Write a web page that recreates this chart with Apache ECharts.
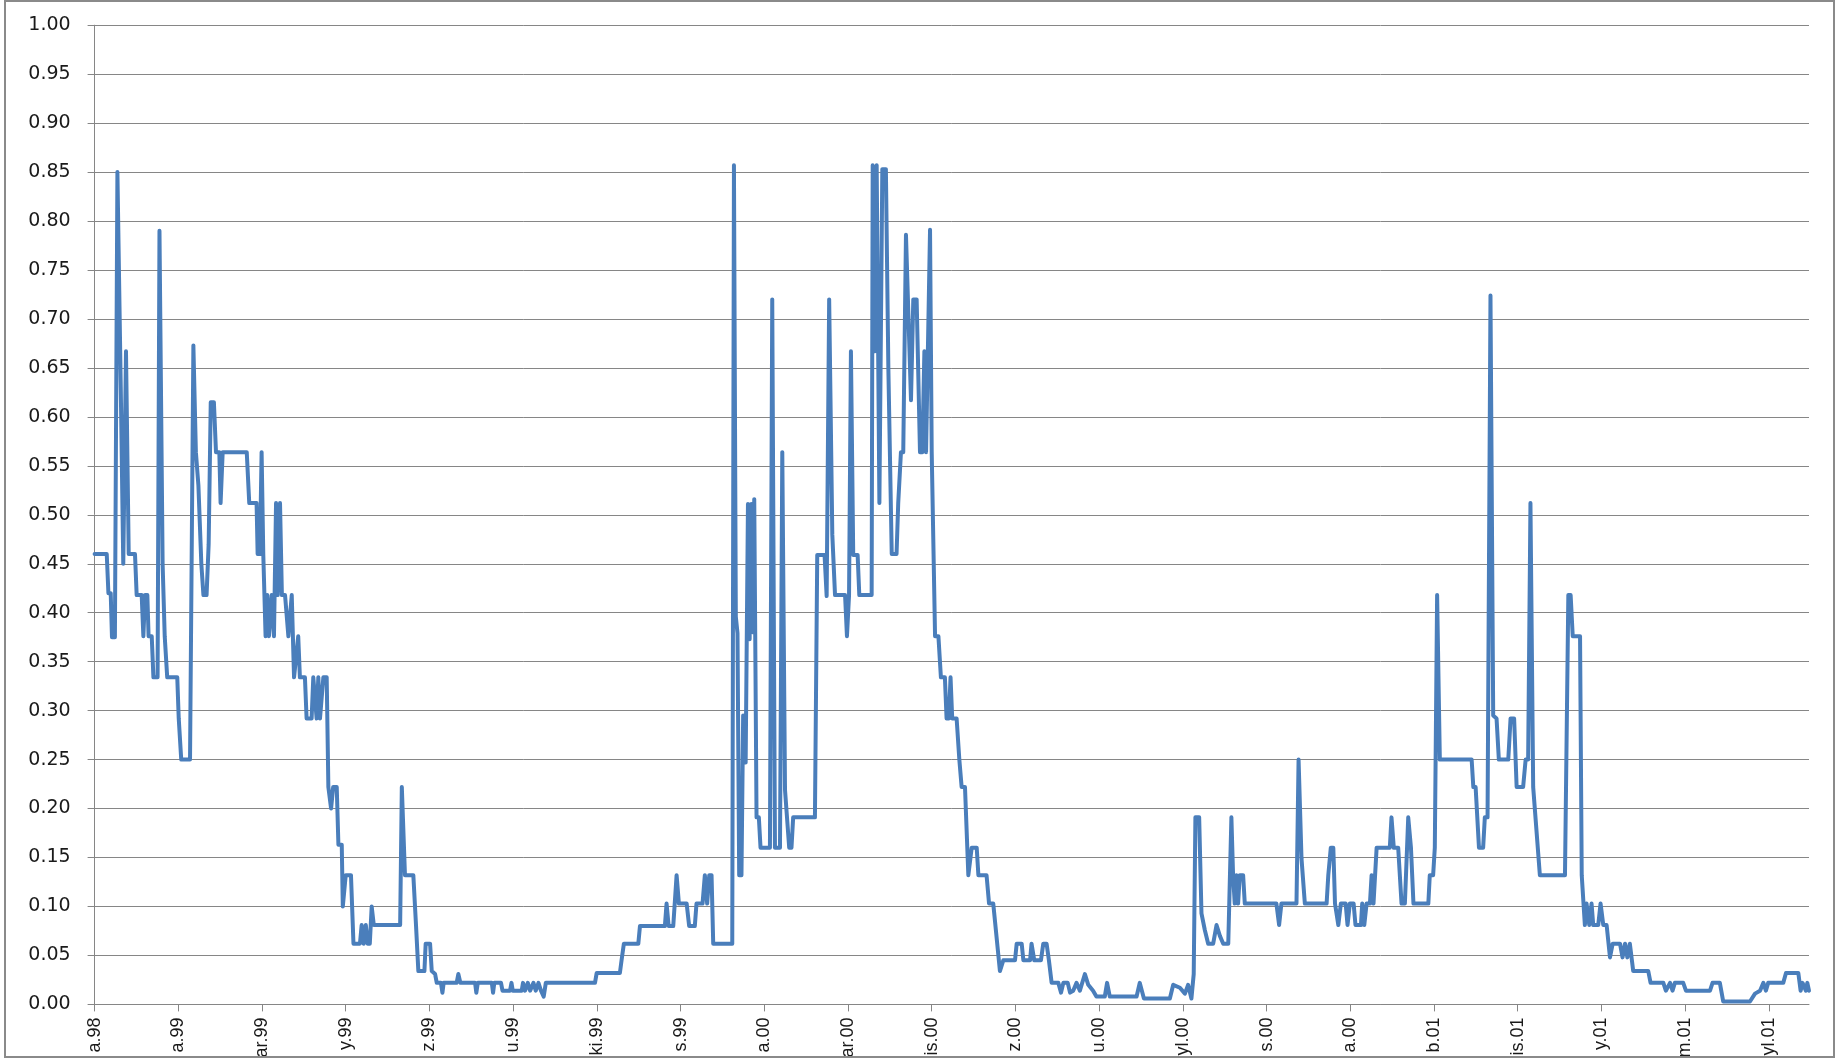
<!DOCTYPE html>
<html>
<head>
<meta charset="utf-8">
<title>line</title>
<script src="https://cdn.jsdelivr.net/npm/echarts@6/dist/echarts.min.js"></script>
<style>
    html, body { margin: 0; padding: 0; background: #fff; }
    #frame {
        position: absolute; left: 4px; top: 0; width: 1831px; height: 1058px;
        border: 2px solid #8a8a8a; box-sizing: border-box; overflow: hidden;
    }
    #chart { width: 100%; height: 100%; }
</style>
</head>
<body>
<div id="frame"><div id="chart"></div></div>
<script>
// x-axis tick labels (only the visible tail of each date survives the frame)
const tickLabels = ["a.98", "a.99", "ar.99", "y.99", "z.99", "u.99", "ki.99", "s.99",
    "a.00", "ar.00", "is.00", "z.00", "u.00", "yl.00", "s.00", "a.00",
    "b.01", "is.01", "y.01", "m.01", "yl.01"];
// one tick every 40 observations
const tickStep = 40;
const lastIndex = 819.2;

// [observation index, value]
const seriesPoints = [
    [0, 0.46], [5.8, 0.46], [6.6, 0.42], [7.7, 0.42], [8.3, 0.375], [9.7, 0.375],
    [10.9, 0.85], [11.7, 0.85], [12.5, 0.63], [13.7, 0.45], [15.0, 0.667], [16.3, 0.46],
    [19.3, 0.46], [20.1, 0.418], [22.5, 0.418], [23.3, 0.376], [24.1, 0.418], [25.2, 0.418],
    [25.8, 0.376], [27.3, 0.376], [28.1, 0.334], [30.1, 0.334], [31.0, 0.79], [32.5, 0.45],
    [33.5, 0.376], [34.1, 0.376], [34.7, 0.334], [39.5, 0.334], [40.2, 0.292], [40.8, 0.292],
    [41.4, 0.25], [45.6, 0.25], [47.2, 0.673], [48.4, 0.564], [49.6, 0.53], [51.0, 0.45],
    [52.0, 0.418], [53.5, 0.418], [54.5, 0.47], [55.5, 0.615], [57.0, 0.615], [58.0, 0.564],
    [59.6, 0.564], [60.2, 0.512], [61.2, 0.564], [72.7, 0.564], [73.9, 0.512], [77.4, 0.512],
    [77.9, 0.46], [79.0, 0.46], [79.8, 0.564], [80.6, 0.46], [81.7, 0.376], [82.5, 0.418],
    [83.3, 0.376], [84.6, 0.418], [85.7, 0.376], [86.7, 0.512], [87.5, 0.418], [88.6, 0.512],
    [89.5, 0.418], [91.0, 0.418], [92.6, 0.376], [94.2, 0.418], [95.3, 0.334], [97.3, 0.376],
    [98.1, 0.334], [100.5, 0.334], [101.3, 0.292], [103.7, 0.292], [104.5, 0.334], [106.1, 0.292],
    [106.9, 0.334], [107.7, 0.292], [109.3, 0.334], [110.9, 0.334], [111.7, 0.222], [113.0, 0.20],
    [114.0, 0.222], [115.7, 0.222], [116.5, 0.163], [118.1, 0.163], [118.6, 0.10], [119.4, 0.10],
    [120.0, 0.132], [122.5, 0.132], [123.7, 0.062], [126.8, 0.062], [127.6, 0.081], [128.6, 0.062],
    [129.6, 0.081], [130.5, 0.062], [131.5, 0.062], [132.4, 0.10], [133.4, 0.081], [146.0, 0.081],
    [146.8, 0.222], [147.6, 0.222], [148.3, 0.132], [152.3, 0.132], [153.6, 0.08], [154.7, 0.034],
    [157.6, 0.034], [158.2, 0.062], [160.3, 0.062], [161.1, 0.034], [162.7, 0.031], [163.5, 0.022],
    [165.5, 0.022], [166.2, 0.012], [166.8, 0.022], [173.0, 0.022], [173.8, 0.031], [174.8, 0.022],
    [181.8, 0.022], [182.4, 0.012], [183.1, 0.022], [189.8, 0.022], [190.4, 0.012], [191.0, 0.022],
    [194.2, 0.022], [194.9, 0.014], [198.5, 0.014], [199.2, 0.022], [199.8, 0.014], [204.1, 0.014],
    [204.7, 0.022], [205.7, 0.014], [207.0, 0.022], [208.1, 0.014], [209.7, 0.022], [210.8, 0.014],
    [212.1, 0.022], [213.3, 0.014], [214.6, 0.008], [215.6, 0.022], [239.1, 0.022], [239.9, 0.032],
    [251.0, 0.032], [251.8, 0.045], [252.9, 0.062], [259.8, 0.062], [260.6, 0.08], [272.5, 0.08],
    [273.3, 0.103], [274.3, 0.08], [276.5, 0.08], [278.1, 0.132], [279.2, 0.103], [282.9, 0.103],
    [284.1, 0.08], [286.8, 0.08], [287.6, 0.103], [290.5, 0.103], [291.6, 0.132], [292.7, 0.103],
    [293.7, 0.132], [294.8, 0.132], [295.6, 0.062], [304.7, 0.062], [305.5, 0.857], [306.4, 0.396],
    [307.2, 0.379], [308.0, 0.132], [309.1, 0.132], [309.9, 0.295], [311.1, 0.247], [312.2, 0.511],
    [313.0, 0.373], [313.8, 0.511], [314.4, 0.38], [315.2, 0.516], [316.3, 0.191], [317.4, 0.191],
    [318.2, 0.16], [322.7, 0.16], [323.8, 0.72], [325.1, 0.16], [327.5, 0.16], [328.6, 0.564],
    [329.9, 0.219], [330.8, 0.219], [331.9, 0.16], [333.0, 0.16], [333.8, 0.191], [344.2, 0.191],
    [345.3, 0.459], [348.8, 0.459], [349.8, 0.417], [351.0, 0.72], [352.5, 0.48], [353.8, 0.418],
    [358.6, 0.418], [359.5, 0.376], [360.5, 0.418], [361.4, 0.667], [362.5, 0.459], [364.6, 0.459],
    [365.4, 0.418], [371.3, 0.418], [371.8, 0.857], [372.9, 0.667], [373.7, 0.857], [375.0, 0.512],
    [376.4, 0.853], [378.1, 0.853], [379.3, 0.648], [380.9, 0.46], [383.2, 0.46], [384.0, 0.512],
    [385.3, 0.564], [386.4, 0.564], [387.7, 0.786], [390.1, 0.617], [391.2, 0.72], [392.8, 0.72],
    [394.4, 0.564], [395.5, 0.564], [396.5, 0.667], [397.3, 0.564], [399.2, 0.791], [400.0, 0.564],
    [401.6, 0.376], [403.2, 0.376], [404.4, 0.334], [406.3, 0.334], [407.1, 0.292], [408.2, 0.292],
    [409.0, 0.334], [409.8, 0.292], [411.9, 0.292], [413.2, 0.25], [414.3, 0.222], [415.9, 0.222],
    [417.5, 0.132], [419.1, 0.16], [421.5, 0.16], [422.3, 0.132], [426.2, 0.132], [427.4, 0.103],
    [429.4, 0.103], [432.6, 0.034], [434.2, 0.045], [439.8, 0.045], [440.6, 0.062], [443.0, 0.062],
    [443.8, 0.045], [447.0, 0.045], [447.7, 0.062], [449.0, 0.045], [452.2, 0.045], [453.3, 0.062],
    [454.9, 0.062], [456.0, 0.045], [457.3, 0.022], [460.5, 0.022], [461.8, 0.012], [462.9, 0.022],
    [465.0, 0.022], [466.1, 0.012], [467.6, 0.014], [469.2, 0.022], [470.8, 0.014], [473.2, 0.031],
    [474.8, 0.02], [477.1, 0.014], [478.7, 0.008], [482.7, 0.008], [483.8, 0.022], [485.1, 0.008],
    [497.9, 0.008], [499.4, 0.022], [501.4, 0.006], [513.8, 0.006], [515.4, 0.02], [518.6, 0.017],
    [521.0, 0.011], [522.5, 0.02], [524.1, 0.006], [525.2, 0.031], [526.0, 0.191], [527.8, 0.191],
    [528.9, 0.093], [530.5, 0.076], [532.1, 0.062], [534.5, 0.062], [536.1, 0.081], [537.7, 0.07],
    [539.3, 0.062], [541.7, 0.062], [543.2, 0.191], [544.0, 0.132], [544.8, 0.103], [545.6, 0.132],
    [546.4, 0.103], [547.2, 0.132], [548.8, 0.132], [549.6, 0.103], [564.7, 0.103], [566.0, 0.081],
    [567.1, 0.103], [574.3, 0.103], [575.3, 0.25], [576.7, 0.149], [578.3, 0.103], [588.7, 0.103],
    [589.5, 0.132], [590.7, 0.16], [591.9, 0.16], [592.7, 0.103], [594.3, 0.081], [595.5, 0.103],
    [597.8, 0.103], [598.7, 0.081], [599.8, 0.103], [601.6, 0.103], [602.5, 0.081], [605.1, 0.081],
    [605.7, 0.103], [606.7, 0.081], [607.8, 0.103], [609.4, 0.103], [610.2, 0.132], [611.1, 0.103],
    [612.6, 0.16], [618.9, 0.16], [619.7, 0.191], [620.8, 0.16], [622.9, 0.16], [624.5, 0.103],
    [626.1, 0.103], [627.7, 0.191], [629.0, 0.16], [630.2, 0.103], [637.3, 0.103], [638.0, 0.132],
    [639.6, 0.132], [640.4, 0.16], [641.5, 0.418], [642.8, 0.25], [658.0, 0.25], [658.8, 0.222],
    [659.9, 0.222], [661.5, 0.16], [663.5, 0.16], [664.3, 0.191], [665.6, 0.191], [667.0, 0.724],
    [668.3, 0.295], [669.9, 0.292], [671.0, 0.25], [675.5, 0.25], [676.6, 0.292], [678.3, 0.292],
    [679.5, 0.222], [682.6, 0.222], [683.8, 0.25], [685.0, 0.25], [686.1, 0.512], [687.4, 0.222],
    [690.6, 0.132], [702.6, 0.132], [704.2, 0.418], [705.3, 0.418], [706.3, 0.376], [709.8, 0.376],
    [710.6, 0.132], [712.1, 0.081], [712.9, 0.103], [714.2, 0.081], [715.3, 0.103], [716.1, 0.081],
    [718.5, 0.081], [719.6, 0.103], [720.9, 0.081], [722.5, 0.081], [724.1, 0.048], [725.4, 0.062],
    [728.9, 0.062], [730.1, 0.048], [731.3, 0.062], [732.4, 0.048], [733.6, 0.062], [735.2, 0.034],
    [742.4, 0.034], [743.5, 0.022], [749.6, 0.022], [750.8, 0.014], [752.8, 0.022], [754.0, 0.014],
    [755.1, 0.022], [759.1, 0.022], [760.4, 0.014], [771.9, 0.014], [773.1, 0.022], [776.6, 0.022],
    [778.2, 0.003], [791.0, 0.003], [793.4, 0.011], [795.8, 0.014], [797.4, 0.022], [798.6, 0.014],
    [799.7, 0.022], [806.9, 0.022], [808.2, 0.032], [814.1, 0.032], [815.2, 0.014], [816.1, 0.022],
    [817.7, 0.014], [818.4, 0.022], [819.2, 0.014]
];

const tickValues = tickLabels.map((_, i) => i * tickStep);
const gridColor = "#868686";
const font = "DejaVu Sans";

const option = {
    animation: false,
    // keep the plot box fixed; labels may run into the frame like the original
    grid: { left: 88.6, top: 23.2, width: 1714.4, height: 979.2, outerBoundsMode: "none" },
    xAxis: {
        type: "value",
        min: 0,
        max: lastIndex,
        interval: tickStep,
        axisLine: { lineStyle: { color: gridColor, width: 1 } },
        axisTick: { show: true, length: 7, inside: false, customValues: tickValues,
            lineStyle: { color: gridColor } },
        splitLine: { show: false },
        axisLabel: {
            customValues: tickValues,
            rotate: 90,
            margin: 13,
            fontFamily: "Liberation Sans",
            fontSize: 18,
            color: "#1a1a1a",
            formatter: v => tickLabels[Math.round(v / tickStep)] || ""
        }
    },
    yAxis: {
        type: "value",
        min: 0,
        max: 1,
        interval: 0.05,
        axisLine: { show: true, lineStyle: { color: gridColor, width: 1 } },
        axisTick: { show: true, length: 7, lineStyle: { color: gridColor } },
        splitLine: { show: true, lineStyle: { color: gridColor, width: 1 } },
        axisLabel: {
            margin: 24,
            fontFamily: font,
            fontSize: 19,
            color: "#1a1a1a",
            formatter: v => v.toFixed(2)
        }
    },
    series: [{
        type: "line",
        data: seriesPoints,
        showSymbol: false,
        symbol: "none",
        lineStyle: { color: "#4a7ebb", width: 4, join: "round", cap: "round" }
    }]
};

const chart = echarts.init(document.getElementById("chart"));
chart.setOption(option);
</script>
</body>
</html>
